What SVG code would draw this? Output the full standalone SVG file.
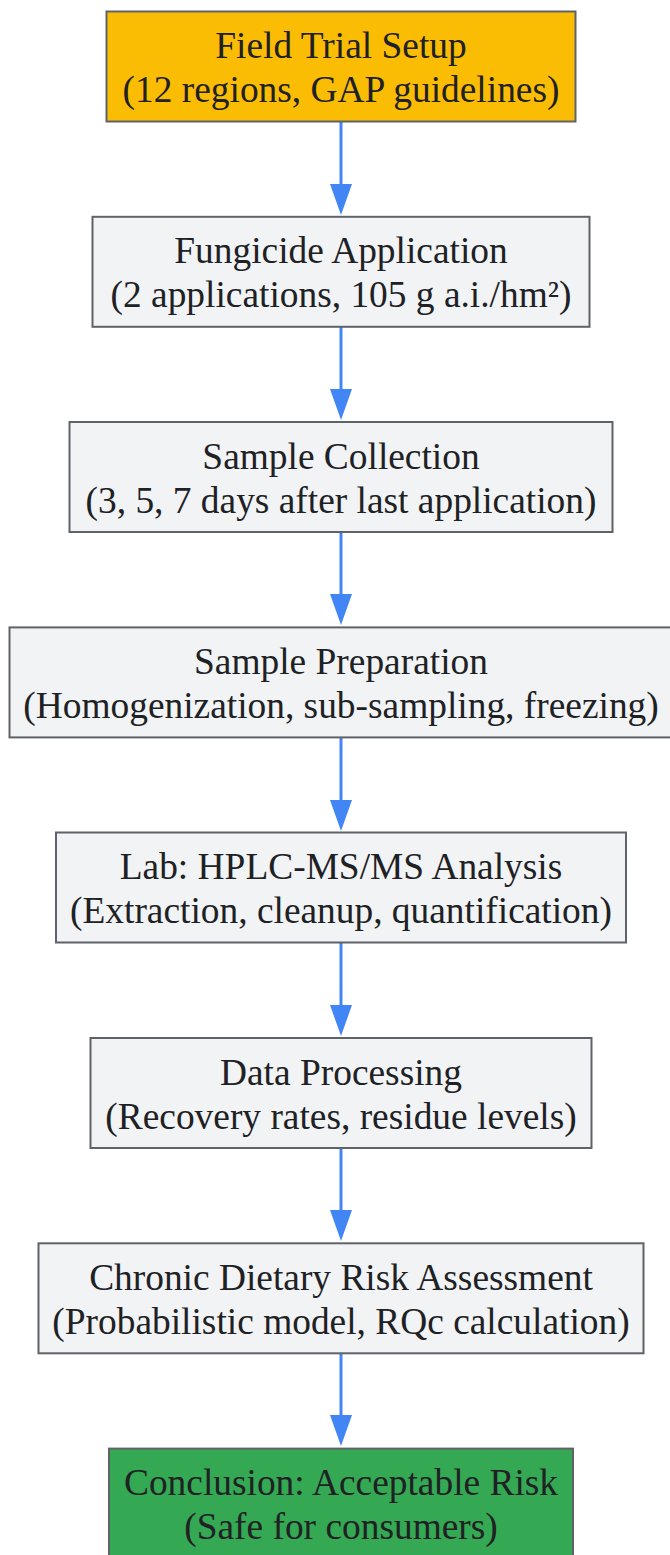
<svg xmlns="http://www.w3.org/2000/svg" width="670" height="1555" viewBox="0 0 670 1555">
<style>
.n{stroke:#5f6368;stroke-width:2}
.g{fill:#f1f3f4}
.t{font-family:"Liberation Serif","Times New Roman",serif;font-size:37.4px;fill:#202124;text-anchor:middle}
.e{stroke:#4285f4;stroke-width:3;fill:none}
.h{fill:#4285f4}
</style>
<rect width="670" height="1555" fill="#ffffff"/>
<g id="connectors">
<line class="e" x1="341" y1="122" x2="341" y2="186"/><polygon class="h" points="330,184 352,184 341,215"/>
<line class="e" x1="341" y1="327" x2="341" y2="391"/><polygon class="h" points="330,389 352,389 341,420"/>
<line class="e" x1="341" y1="532" x2="341" y2="596"/><polygon class="h" points="330,594 352,594 341,625"/>
<line class="e" x1="341" y1="738" x2="341" y2="802"/><polygon class="h" points="330,800 352,800 341,831"/>
<line class="e" x1="341" y1="943" x2="341" y2="1007"/><polygon class="h" points="330,1005 352,1005 341,1036"/>
<line class="e" x1="341" y1="1148" x2="341" y2="1212"/><polygon class="h" points="330,1210 352,1210 341,1241"/>
<line class="e" x1="341" y1="1353" x2="341" y2="1417"/><polygon class="h" points="330,1415 352,1415 341,1446"/>
</g>
<g id="n1"><rect class="n" x="106.5" y="11.5" width="469" height="110" fill="#fbbc04"/><text class="t" x="341" y="58">Field Trial Setup</text><text class="t" x="341" y="102">(12 regions, GAP guidelines)</text></g>
<g id="n2"><rect class="n g" x="92.5" y="216.8" width="497" height="110"/><text class="t" x="341" y="263.3">Fungicide Application</text><text class="t" x="341" y="307.3">(2 applications, 105 g a.i./hm²)</text></g>
<g id="n3"><rect class="n g" x="69.5" y="422" width="543" height="110"/><text class="t" x="341" y="468.5">Sample Collection</text><text class="t" x="341" y="512.5">(3, 5, 7 days after last application)</text></g>
<g id="n4"><rect class="n g" x="9.5" y="627.4" width="663" height="110"/><text class="t" x="341" y="673.9">Sample Preparation</text><text class="t" x="341" y="717.9">(Homogenization, sub-sampling, freezing)</text></g>
<g id="n5"><rect class="n g" x="56" y="832.5" width="570" height="110"/><text class="t" x="341" y="879">Lab: HPLC-MS/MS Analysis</text><text class="t" x="341" y="923">(Extraction, cleanup, quantification)</text></g>
<g id="n6"><rect class="n g" x="90.5" y="1038" width="501" height="110"/><text class="t" x="341" y="1084.5">Data Processing</text><text class="t" x="341" y="1128.5">(Recovery rates, residue levels)</text></g>
<g id="n7"><rect class="n g" x="38.5" y="1243.3" width="605" height="110"/><text class="t" x="341" y="1289.8">Chronic Dietary Risk Assessment</text><text class="t" x="341" y="1333.8">(Probabilistic model, RQc calculation)</text></g>
<g id="n8"><rect class="n" x="109" y="1448.6" width="464" height="110" fill="#34a853"/><text class="t" x="341" y="1495.1">Conclusion: Acceptable Risk</text><text class="t" x="341" y="1539.1">(Safe for consumers)</text></g>
</svg>
